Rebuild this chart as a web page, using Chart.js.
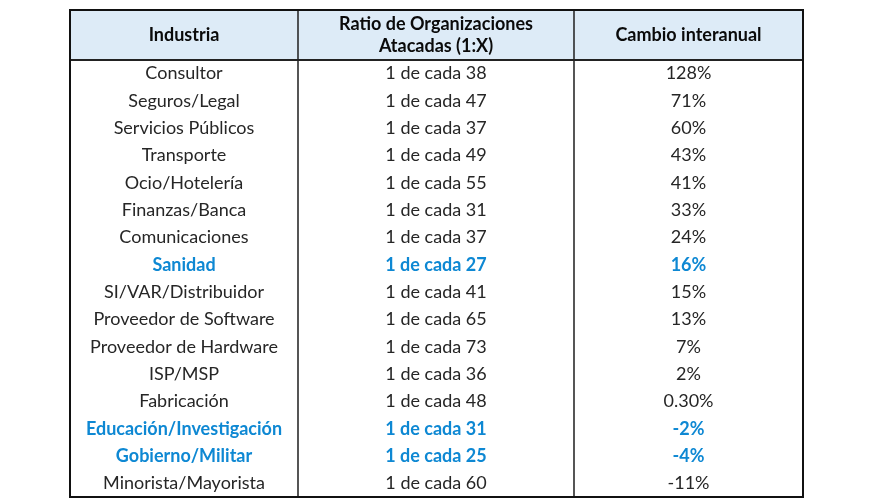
<!DOCTYPE html>
<html>
<head>
<meta charset="utf-8">
<script src="https://cdn.jsdelivr.net/npm/chart.js@4"></script>
<style>
html,body{margin:0;padding:0;background:#fff;}
#wrap{width:875px;height:501px;}
</style>
</head>
<body>
<div id="wrap"><canvas id="c" width="875" height="501"></canvas></div>
<script>
// ---- data ----
const headers = ['Industria', ['Ratio de Organizaciones', 'Atacadas (1:X)'], 'Cambio interanual'];
const industries = ['Consultor','Seguros/Legal','Servicios Públicos','Transporte','Ocio/Hotelería','Finanzas/Banca','Comunicaciones','Sanidad','SI/VAR/Distribuidor','Proveedor de Software','Proveedor de Hardware','ISP/MSP','Fabricación','Educación/Investigación','Gobierno/Militar','Minorista/Mayorista'];
const ratios = [38,47,37,49,55,31,37,27,41,65,73,36,48,31,25,60];
const changes = [128,71,60,43,41,33,24,16,15,13,7,2,0.3,-2,-4,-11];
const highlighted = ['Sanidad','Educación/Investigación','Gobierno/Militar'];

// ---- layout (not data) ----
const colEdges = [0, 228, 504, 733];
const headerUnits = 1.83;
const FONT = 'Lato, "Open Sans", sans-serif';
const BLUE = '#0E88D3';
const SIZE = 18;

const fmtChange = v => (Number.isInteger(v) ? v : v.toFixed(2)) + '%';
const cellText = [
  industries,
  ratios.map(r => '1 de cada ' + r),
  changes.map(fmtChange)
];
const colCenter = c => (colEdges[c] + colEdges[c + 1]) / 2;

const datasets = [0,1,2].map(c => ({
  label: 'col' + c,
  data: industries.map((_, i) => ({x: colCenter(c), y: i + 0.5})),
  pointRadius: 0,
  pointHoverRadius: 0,
  showLine: false
}));

const tablePlugin = {
  id: 'table',
  beforeDatasetsDraw(chart) {
    const {ctx, scales: {x, y}} = chart;
    const L = x.getPixelForValue(colEdges[0]), R = x.getPixelForValue(colEdges[3]);
    const T = y.getPixelForValue(-headerUnits), H = y.getPixelForValue(0), B = y.getPixelForValue(industries.length);
    ctx.save();
    ctx.fillStyle = '#DDEBF7';
    ctx.fillRect(L, T, R - L, H - T);
    ctx.strokeStyle = '#2b2b2b';
    ctx.lineWidth = 1.6;
    [1, 2].forEach(c => {
      const px = Math.round(x.getPixelForValue(colEdges[c]));
      ctx.beginPath(); ctx.moveTo(px, T); ctx.lineTo(px, B); ctx.stroke();
    });
    ctx.strokeStyle = '#222';
    ctx.lineWidth = 2;
    ctx.beginPath(); ctx.moveTo(L, H); ctx.lineTo(R, H); ctx.stroke();
    ctx.strokeStyle = '#111';
    ctx.lineWidth = 2;
    ctx.strokeRect(L, T, R - L, B - T);
    ctx.fillStyle = '#0a0a0a';
    ctx.font = 'bold ' + SIZE + 'px ' + FONT;
    ctx.textAlign = 'center';
    ctx.textBaseline = 'middle';
    const hc = (T + H) / 2;
    headers.forEach((h, c) => {
      const cx = x.getPixelForValue(colCenter(c));
      if (Array.isArray(h)) {
        ctx.fillText(h[0], cx, hc - 11);
        ctx.fillText(h[1], cx, hc + 11);
      } else {
        ctx.fillText(h, cx, hc);
      }
    });
    ctx.restore();
  },
  afterDatasetsDraw(chart) {
    const {ctx} = chart;
    ctx.save();
    ctx.textAlign = 'center';
    ctx.textBaseline = 'middle';
    chart.data.datasets.forEach((ds, c) => {
      const meta = chart.getDatasetMeta(c);
      meta.data.forEach((pt, i) => {
        const hl = highlighted.includes(industries[i]);
        ctx.font = (hl ? 'bold ' : '') + SIZE + 'px ' + FONT;
        ctx.fillStyle = hl ? BLUE : '#262626';
        ctx.fillText(cellText[c][i], pt.x, pt.y);
      });
    });
    ctx.restore();
  }
};

new Chart(document.getElementById('c'), {
  type: 'scatter',
  data: {datasets},
  options: {
    responsive: false,
    animation: false,
    events: [],
    layout: {padding: {left: 70, right: 72, top: 10, bottom: 4}},
    plugins: {legend: {display: false}, tooltip: {enabled: false}},
    scales: {
      x: {type: 'linear', display: false, min: colEdges[0], max: colEdges[3]},
      y: {type: 'linear', display: false, reverse: true, min: -headerUnits, max: industries.length}
    }
  },
  plugins: [tablePlugin]
});
</script>
</body>
</html>
